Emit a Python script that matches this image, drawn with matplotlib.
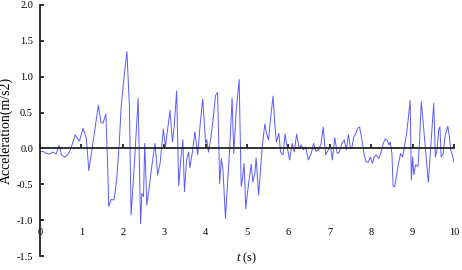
import matplotlib
matplotlib.use("Agg")
import matplotlib.pyplot as plt
import numpy as np

plt.rcParams['font.family'] = ['Liberation Serif', 'DejaVu Serif']
plt.rcParams['mathtext.fontset'] = 'custom'
plt.rcParams['mathtext.it'] = 'Liberation Serif:italic'
plt.rcParams['mathtext.rm'] = 'Liberation Serif'
plt.rcParams['axes.unicode_minus'] = False

time_s = [0.00, 0.07, 0.15, 0.23, 0.31, 0.39, 0.46, 0.52, 0.60, 0.68, 0.73, 0.78, 0.85, 0.90, 0.95,
          1.04, 1.12, 1.18, 1.24, 1.32, 1.41, 1.47, 1.52, 1.59, 1.63, 1.66, 1.72, 1.79, 1.85, 1.91, 1.96,
          2.03, 2.10, 2.16, 2.20, 2.23, 2.29, 2.37, 2.43, 2.46, 2.50, 2.53, 2.58, 2.63, 2.70, 2.78, 2.84, 2.90, 2.98,
          3.03, 3.06, 3.14, 3.20, 3.24, 3.30, 3.35, 3.40, 3.45, 3.49, 3.54, 3.59, 3.62, 3.69, 3.74, 3.81, 3.86, 3.93, 3.97,
          4.00, 4.03, 4.07, 4.12, 4.18, 4.24, 4.29, 4.34, 4.38, 4.42, 4.48, 4.52, 4.58, 4.64, 4.68, 4.74, 4.81, 4.86, 4.89, 4.93, 4.97,
          5.01, 5.05, 5.10, 5.14, 5.19, 5.22, 5.28, 5.32, 5.37, 5.43, 5.47, 5.52, 5.57, 5.63, 5.67, 5.71, 5.77, 5.81, 5.87, 5.92, 5.97,
          6.03, 6.09, 6.14, 6.20, 6.26, 6.31, 6.36, 6.42, 6.48, 6.55, 6.61, 6.66, 6.73, 6.79, 6.84, 6.90, 6.96,
          7.02, 7.06, 7.12, 7.18, 7.23, 7.29, 7.35, 7.40, 7.45, 7.50, 7.53, 7.58, 7.63, 7.67, 7.72, 7.77, 7.83, 7.88, 7.93, 7.98,
          8.03, 8.07, 8.12, 8.18, 8.23, 8.29, 8.34, 8.38, 8.43, 8.46, 8.50, 8.53, 8.57, 8.61, 8.66, 8.71, 8.76, 8.81, 8.86, 8.90, 8.94, 8.97,
          9.00, 9.03, 9.07, 9.13, 9.17, 9.21, 9.25, 9.28, 9.31, 9.34, 9.38, 9.43, 9.48, 9.51, 9.55, 9.59, 9.63, 9.66, 9.69, 9.74, 9.78,
          9.85, 9.89, 9.92, 9.96, 10.00]

accel = [-0.05, -0.04, -0.07, -0.08, -0.05, -0.08, 0.04, -0.09, -0.125, -0.08, -0.02, 0.06, 0.19, 0.14, 0.10,
         0.28, 0.14, -0.31, -0.07, 0.26, 0.60, 0.37, 0.35, 0.48, -0.16, -0.81, -0.71, -0.72, -0.44, 0.02, 0.58,
         1.00, 1.35, 0.58, -0.93, -0.67, -0.12, 0.70, -1.05, -0.63, -0.67, 0.07, -0.79, -0.58, -0.25, 0.07, -0.37, -0.21, 0.27,
         0.02, 0.16, 0.53, 0.09, 0.30, 0.80, -0.52, -0.16, 0.12, -0.60, -0.16, -0.05, -0.27, -0.02, 0.23, -0.09, 0.28, 0.69, 0.35,
         0.07, 0.12, -0.05, 0.12, 0.40, 0.74, 0.78, -0.49, -0.14, -0.30, -0.98, -0.58, -0.02, 0.70, -0.07, 0.53, 0.96, -0.53, -0.42, -0.21, -0.84,
         -0.63, -0.44, -0.22, -0.47, -0.35, -0.13, -0.65, -0.35, 0.03, 0.34, 0.21, 0.12, 0.42, 0.73, 0.35, 0.09, 0.21, -0.05, -0.09, 0.20, 0.02,
         -0.16, 0.07, -0.05, 0.20, 0.00, 0.05, -0.02, 0.02, -0.16, -0.07, 0.07, -0.04, -0.02, 0.07, 0.30, -0.09, -0.02,
         0.02, -0.16, 0.15, -0.07, -0.05, 0.07, 0.12, -0.02, 0.19, 0.00, 0.00, 0.16, 0.21, 0.28, 0.30, 0.14, -0.09, -0.19, -0.19, -0.12,
         -0.21, -0.12, -0.09, -0.14, -0.07, 0.07, 0.13, 0.12, 0.05, 0.09, -0.07, -0.53, -0.53, -0.39, -0.21, -0.07, -0.12, 0.05, 0.23, 0.44, 0.67, -0.44,
         -0.12, -0.37, -0.23, -0.25, 0.12, 0.65, 0.40, 0.19, 0.00, -0.21, -0.47, -0.05, 0.37, 0.63, -0.12, -0.02, 0.26, 0.30, -0.12, -0.07, 0.16,
         0.31, 0.16, -0.02, -0.09, -0.19]

x_ticks = [0, 1, 2, 3, 4, 5, 6, 7, 8, 9, 10]
x_tick_labels = ['0', '1', '2', '3', '4', '5', '6', '7', '8', '9', '10']
y_ticks = [-1.5, -1.0, -0.5, 0.0, 0.5, 1.0, 1.5, 2.0]
y_tick_labels = ['-1.5', '-1.0', '-0.5', '0.0', '0.5', '1.0', '1.5', '2.0']

fig = plt.figure(figsize=(4.62, 2.70), dpi=100)
ax = fig.add_axes([40/462, 1 - 256/270, 414/462, 251/270])

ax.plot(time_s, accel, color='#5a5aff', linewidth=0.7)

ax.set_xlim(0, 10)
ax.set_ylim(-1.5, 2.0)

ax.spines['top'].set_visible(False)
ax.spines['right'].set_visible(False)
ax.spines['bottom'].set_position(('data', 0))
ax.spines['bottom'].set_linewidth(1.3)
ax.spines['left'].set_linewidth(1.3)
ax.spines['bottom'].set_color('#222222')
ax.spines['left'].set_color('#222222')

ax.set_xticks(x_ticks)
ax.set_xticklabels(x_tick_labels)
ax.set_yticks(y_ticks)
ax.set_yticklabels(y_tick_labels)

ax.tick_params(axis='x', direction='in', length=3, width=1.3, pad=57, labelsize=7.5, color='#222222')
ax.tick_params(axis='y', direction='in', length=3, width=1.3, pad=5, labelsize=7.5, color='#222222')

ax.set_xlabel('$t$ (s)', fontsize=9)
ax.xaxis.set_label_coords(0.5, 0.022)
ax.set_ylabel('Acceleration(m/s2)', fontsize=10)
ax.yaxis.set_label_coords(-0.065, 0.5)

fig.savefig('out.png', dpi=100)
